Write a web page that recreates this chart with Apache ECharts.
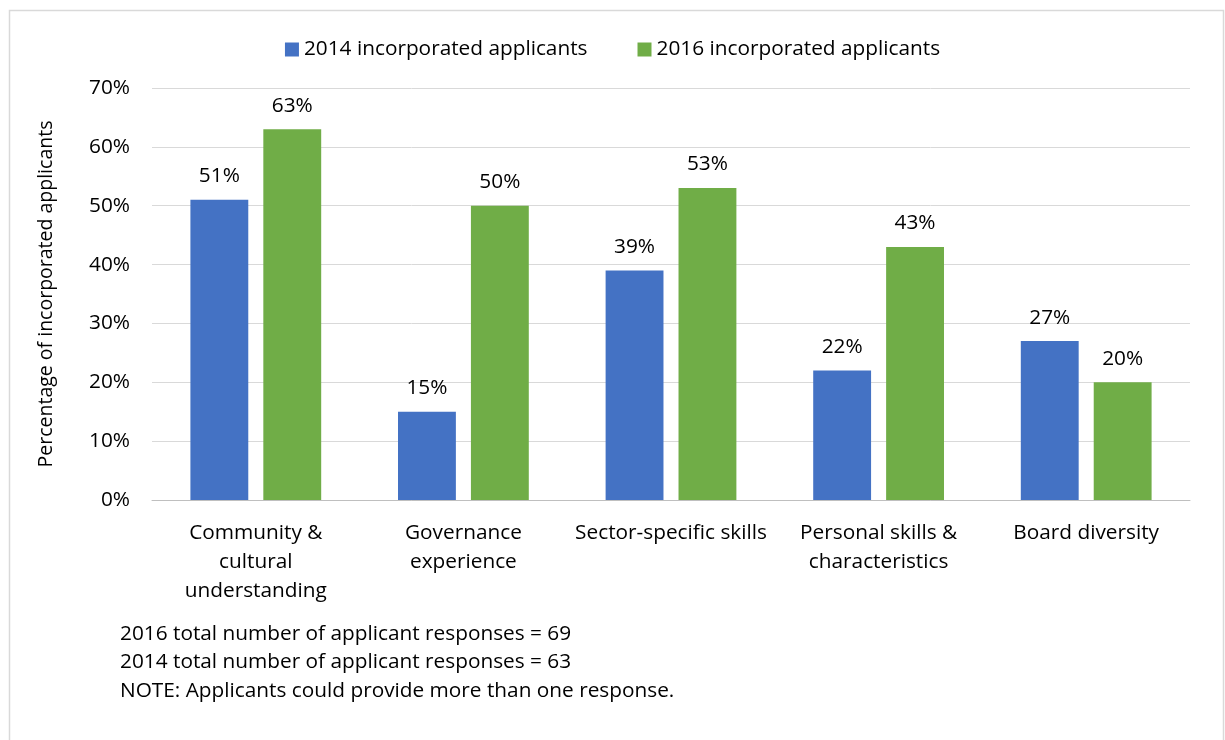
<!DOCTYPE html>
<html><head><meta charset="utf-8">
<script src="https://cdn.jsdelivr.net/npm/echarts@6/dist/echarts.min.js"></script>
<style>html,body{margin:0;padding:0;background:#fff}#c{width:1225px;height:740px}</style>
</head><body><div id="c"></div>
<script>
const categories = ["Community &\ncultural\nunderstanding", "Governance\nexperience", "Sector-specific skills", "Personal skills &\ncharacteristics", "Board diversity"];
const series2014 = [51, 15, 39, 22, 27];
const series2016 = [63, 50, 53, 43, 20];
const seriesNames = ["2014 incorporated applicants", "2016 incorporated applicants"];
const notes = ["2016 total number of applicant responses = 69", "2014 total number of applicant responses = 63", "NOTE: Applicants could provide more than one response."];
const yAxisName = "Percentage of incorporated applicants";

const FONT = "Open Sans";
const FS = 20.8;
const chart = echarts.init(document.getElementById('c'), null, {renderer: 'canvas'});
chart.setOption({
  animation: false,
  textStyle: {fontFamily: FONT, color: '#000'},
  graphic: [
    {type: 'rect', shape: {x: 9.5, y: 10.5, width: 1214, height: 740}, style: {fill: 'none', stroke: '#d9d9d9', lineWidth: 1.5}, silent: true},
    {type: 'text', left: 120, top: 619.5, style: {text: notes.join('\n'), font: FS + 'px "' + FONT + '"', lineHeight: 28.7, fill: '#000'}}
  ],
  legend: {
    top: 34, left: 'center', itemWidth: 14, itemHeight: 14, itemGap: 50,
    icon: 'rect',
    textStyle: {fontSize: FS, fontFamily: FONT, color: '#000'},
    data: seriesNames
  },
  grid: {left: 152, right: 35, top: 88, bottom: 240, containLabel: false},
  xAxis: {
    type: 'category', data: categories,
    axisLine: {lineStyle: {color: '#bfbfbf', width: 1}},
    axisTick: {show: false},
    axisLabel: {fontSize: FS, fontFamily: FONT, color: '#000', lineHeight: 29, margin: 19, interval: 0}
  },
  yAxis: {
    type: 'value', min: 0, max: 70, interval: 10,
    name: yAxisName, nameLocation: 'middle', nameGap: 96, nameRotate: 90,
    nameTextStyle: {fontSize: 19.5, fontFamily: FONT, color: '#000'},
    axisLabel: {formatter: '{value}%', fontSize: FS, fontFamily: FONT, color: '#000', margin: 22},
    axisLine: {show: false}, axisTick: {show: false},
    splitLine: {lineStyle: {color: '#d9d9d9', width: 1}}
  },
  series: [
    {name: seriesNames[0], type: 'bar', data: series2014, itemStyle: {color: '#4472C4'},
     barGap: '26%', barCategoryGap: '37%',
     label: {show: true, position: 'top', distance: 13, formatter: '{c}%', fontSize: FS, fontFamily: FONT, color: '#000'}},
    {name: seriesNames[1], type: 'bar', data: series2016, itemStyle: {color: '#70AD47'},
     barGap: '26%', barCategoryGap: '37%',
     label: {show: true, position: 'top', distance: 13, formatter: '{c}%', fontSize: FS, fontFamily: FONT, color: '#000'}}
  ]
});
</script></body></html>
